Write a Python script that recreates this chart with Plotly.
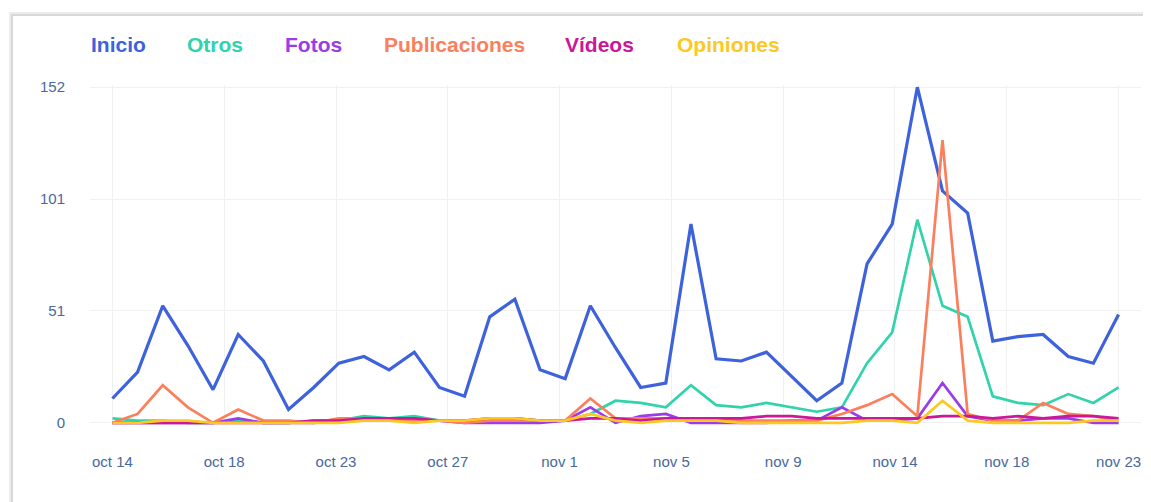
import pandas as pd
import numpy as np
import plotly.graph_objects as go

# ---- data ----
dates = pd.date_range("2023-10-14", "2023-11-23", freq="D")

inicio = [11, 23, 53, 35, 15, 40, 28, 6, 16, 27, 30, 24, 32, 16, 12, 48, 56, 24, 20, 53,
          34, 16, 18, 90, 29, 28, 32, 21, 10, 18, 72, 90, 152, 105, 95, 37, 39, 40, 30, 27, 49]
otros = [2, 1, 1, 0, 0, 1, 0, 0, 1, 1, 3, 2, 3, 1, 1, 1, 2, 1, 1, 4,
         10, 9, 7, 17, 8, 7, 9, 7, 5, 7, 27, 41, 92, 53, 48, 12, 9, 8, 13, 9, 16]
fotos = [0, 0, 0, 0, 0, 2, 0, 0, 0, 1, 1, 1, 1, 1, 0, 0, 0, 0, 1, 7,
         0, 3, 4, 0, 0, 0, 0, 1, 1, 7, 1, 1, 2, 18, 3, 1, 1, 2, 2, 0, 0]
publicaciones = [0, 4, 17, 7, 0, 6, 1, 1, 0, 2, 2, 1, 1, 1, 0, 1, 1, 1, 1, 11,
                 2, 2, 2, 1, 1, 1, 1, 1, 1, 4, 8, 13, 3, 128, 4, 1, 1, 9, 4, 3, 1]
videos = [0, 0, 0, 0, 0, 0, 0, 0, 1, 1, 2, 2, 2, 1, 1, 2, 2, 1, 1, 2,
          2, 1, 2, 2, 2, 2, 3, 3, 2, 2, 2, 2, 2, 3, 3, 2, 3, 2, 3, 3, 2]
opiniones = [0, 0, 1, 1, 0, 0, 0, 0, 0, 0, 1, 1, 0, 1, 1, 2, 2, 1, 1, 4,
             1, 0, 1, 1, 1, 0, 0, 0, 0, 0, 1, 1, 0, 10, 1, 0, 0, 0, 0, 1, 1]

series_names = ["Inicio", "Otros", "Fotos", "Publicaciones", "Vídeos", "Opiniones"]
series_values = [inicio, otros, fotos, publicaciones, videos, opiniones]
colors = ["#3d62dc", "#30d3aa", "#9a3ce8", "#fb7f5c", "#c9189a", "#fdc822"]

x_tick_labels = ["oct 14", "oct 18", "oct 23", "oct 27", "nov 1",
                 "nov 5", "nov 9", "nov 14", "nov 18", "nov 23"]
y_tick_labels = ["0", "51", "101", "152"]
y_max = 152

# ---- figure ----
fig = go.Figure()
for name, vals, col in zip(series_names, series_values, colors):
    fig.add_trace(go.Scatter(x=dates, y=vals, name=name, mode="lines",
                             line=dict(color=col, width=3.2 if name == "Inicio" else 2.7),
                             showlegend=False))

t0 = dates[0].value
t1 = dates[-1].value
tick_pos = pd.to_datetime(np.linspace(t0, t1, len(x_tick_labels)).astype("int64"))
pad = pd.Timedelta(hours=21.4)

tick_font = dict(family="Liberation Sans, Arial, sans-serif", size=15, color="#4768a0")

# page has an 8px body margin; figure placed so plot area sits at page x 90..1141, y 85..425
W, H = 1143, 494
ML, MR, MT, MB = 82, 10, 77, 77
OFF = 8

fig.update_layout(
    width=W, height=H,
    margin=dict(l=ML, r=MR, t=MT, b=MB),
    paper_bgcolor="white", plot_bgcolor="white",
    xaxis=dict(type="date", range=[dates[0] - pad, dates[-1] + pad],
               tickvals=tick_pos, ticktext=x_tick_labels,
               showgrid=True, gridcolor="#f1f1f1", gridwidth=1,
               zeroline=False, showline=False, ticks="",
               tickfont=tick_font, ticklabelstandoff=26),
    yaxis=dict(range=[-1, y_max + 1],
               tickvals=[0, y_max / 3, 2 * y_max / 3, y_max], ticktext=y_tick_labels,
               showgrid=True, gridcolor="#f1f1f1", gridwidth=1,
               zeroline=False, showline=False, ticks="",
               tickfont=tick_font, ticklabelstandoff=24),
)

plot_w = W - ML - MR
plot_h = H - MT - MB
plot_left_page = OFF + ML
plot_bottom_page = OFF + H - MB


def px_to_paper_x(px):
    return (px - plot_left_page) / plot_w


def py_to_paper_y(py):
    return (plot_bottom_page - py) / plot_h


# legend as coloured text
legend_left_px = [89, 185, 283, 382, 563, 675]
for name, col, px in zip(series_names, colors, legend_left_px):
    fig.add_annotation(text=name, xref="paper", yref="paper",
                       x=px_to_paper_x(px), y=py_to_paper_y(45),
                       xanchor="left", yanchor="middle", showarrow=False,
                       font=dict(family="Liberation Sans, Arial, sans-serif", size=21,
                                 color=col, weight="bold"))

# card border (top and left edges only, with a soft shadow)
for off, col, w in [(-1, "#ececec", 4), (0, "#d2d2d2", 1.5)]:
    xl = px_to_paper_x(12 + off)
    yt = py_to_paper_y(15 + off)
    fig.add_shape(type="path", xref="paper", yref="paper",
                  path=f"M {xl} {py_to_paper_y(520)} L {xl} {yt} L {px_to_paper_x(1160)} {yt}",
                  line=dict(color=col, width=w), layer="below")

fig.write_html("out.html")
